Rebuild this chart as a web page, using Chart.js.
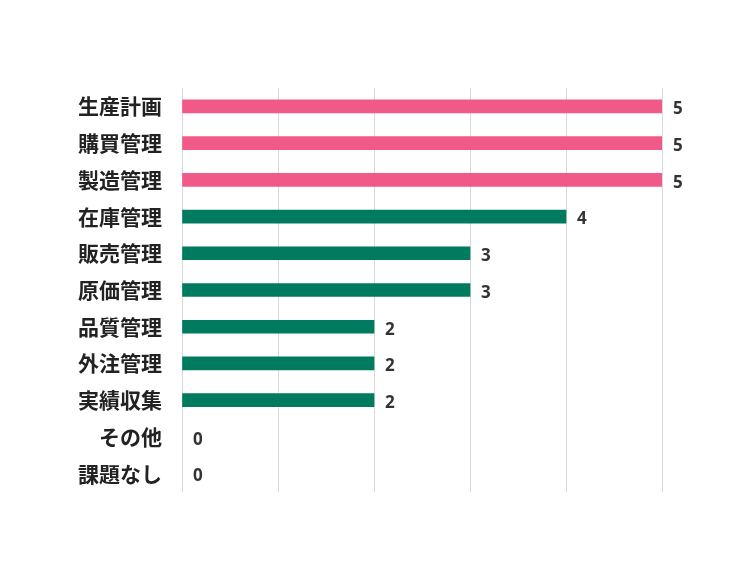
<!DOCTYPE html>
<html>
<head>
<meta charset="utf-8">
<script src="https://cdn.jsdelivr.net/npm/chart.js@4/dist/chart.umd.min.js"></script>
<style>
html,body{margin:0;padding:0;background:#fff;}
#wrap{width:750px;height:562px;}
</style>
</head>
<body>
<div id="wrap"><canvas id="c" width="750" height="562"></canvas></div>
<script>
const categories = ["生産計画","購買管理","製造管理","在庫管理","販売管理","原価管理","品質管理","外注管理","実績収集","その他","課題なし"];
const values = [5,5,5,4,3,3,2,2,2,0,0];
const highlighted = [true,true,true,false,false,false,false,false,false,false,false];
const xTicks = [0,1,2,3,4,5];

const PINK = "#F15A86";
const GREEN = "#007B5F";

const valueLabels = {
  id: "valueLabels",
  afterDatasetsDraw(chart) {
    const ctx = chart.ctx;
    const meta = chart.getDatasetMeta(0);
    ctx.save();
    ctx.font = "bold 17px 'Noto Sans', 'DejaVu Sans', sans-serif";
    ctx.fillStyle = "#333333";
    ctx.textAlign = "left";
    ctx.textBaseline = "middle";
    meta.data.forEach((bar, i) => {
      ctx.fillText(String(values[i]), bar.x + 11, bar.y + 3);
    });
    ctx.restore();
  }
};

new Chart(document.getElementById("c"), {
  type: "bar",
  data: {
    labels: categories,
    datasets: [{
      data: values,
      backgroundColor: values.map((v, i) => v === 0 ? "rgba(0,0,0,0)" : (highlighted[i] ? PINK : GREEN)),
      barThickness: 13,
      borderWidth: 0
    }]
  },
  options: {
    indexAxis: "y",
    responsive: false,
    animation: false,
    layout: { padding: { top: 88, right: 88, bottom: 70, left: 0 } },
    plugins: { legend: { display: false }, tooltip: { enabled: false } },
    scales: {
      x: {
        min: 0, max: 5,
        afterBuildTicks: (s) => { s.ticks = xTicks.map(v => ({ value: v })); },
        ticks: { display: false },
        grid: { color: "#d9d9d9", lineWidth: 1, drawTicks: false },
        border: { display: false }
      },
      y: {
        afterFit: (s) => { s.width = 182; },
        ticks: {
          color: "#222222",
          padding: 12,
          font: { family: "'Noto Sans CJK JP', sans-serif", size: 21, weight: "bold" }
        },
        grid: { display: false },
        border: { display: false }
      }
    }
  },
  plugins: [valueLabels]
});
</script>
</body>
</html>
